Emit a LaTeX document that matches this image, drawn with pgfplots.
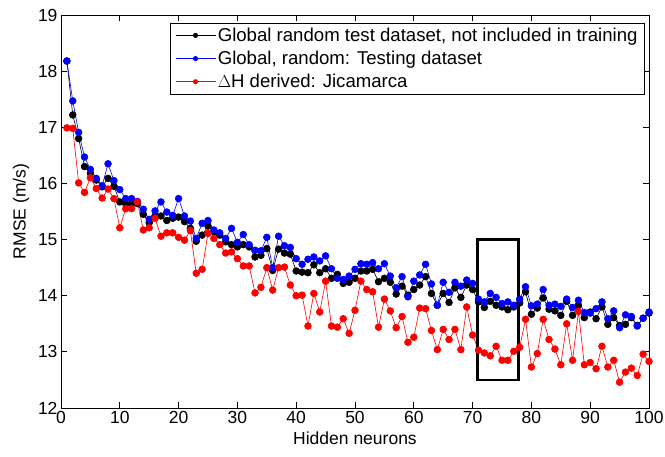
\documentclass[border=0pt]{standalone}
\usepackage{pgfplots}
\pgfplotsset{compat=1.18}
\usepackage{pgfplotstable}
\usepackage{fontspec}
\setmainfont{Liberation Sans}
\pgfplotstableread{
x k b r
1 18.18 18.18 16.99
2 17.22 17.47 16.98
3 16.80 16.91 16.01
4 16.30 16.47 15.84
5 16.18 16.25 16.10
6 16.06 16.09 15.91
7 15.94 15.96 15.74
8 16.09 16.35 15.90
9 15.95 16.05 15.73
10 15.67 15.89 15.21
11 15.64 15.73 15.55
12 15.64 15.73 15.55
13 15.64 15.68 15.67
14 15.45 15.54 15.17
15 15.30 15.36 15.21
16 15.42 15.51 15.38
17 15.42 15.67 15.06
18 15.34 15.49 15.12
19 15.38 15.43 15.12
20 15.40 15.73 15.04
21 15.32 15.42 14.99
22 15.20 15.33 15.16
23 14.97 15.02 14.40
24 15.08 15.29 14.47
25 15.24 15.34 15.11
26 15.14 15.17 15.02
27 15.08 15.12 14.91
28 14.96 15.02 14.76
29 14.91 15.20 14.78
30 14.87 14.95 14.66
31 14.91 15.09 14.53
32 14.87 14.91 14.53
33 14.69 14.81 14.05
34 14.72 14.80 14.15
35 14.84 15.04 14.50
36 14.45 14.50 14.10
37 14.83 15.06 14.50
38 14.76 14.89 14.51
39 14.74 14.86 14.19
40 14.44 14.66 14.00
41 14.42 14.56 14.01
42 14.41 14.65 13.46
43 14.55 14.69 14.04
44 14.41 14.62 13.71
45 14.48 14.71 14.26
46 14.31 14.48 13.46
47 14.38 14.31 13.44
48 14.22 14.29 13.59
49 14.24 14.35 13.33
50 14.31 14.47 13.74
51 14.44 14.57 14.26
52 14.44 14.56 14.11
53 14.47 14.59 14.07
54 14.25 14.48 13.44
55 14.31 14.57 13.94
56 14.24 14.35 13.73
57 14.03 14.14 13.43
58 14.17 14.34 13.63
59 14.01 13.98 13.17
60 14.11 14.26 13.26
61 14.19 14.37 13.78
62 14.34 14.56 13.77
63 14.04 14.21 13.38
64 13.83 13.83 13.04
65 14.04 14.24 13.40
66 13.88 14.06 13.22
67 14.14 14.24 13.40
68 13.97 14.17 13.04
69 14.19 14.28 13.80
70 14.11 14.22 13.30
71 13.89 13.94 13.03
72 13.79 13.89 12.98
73 13.90 14.04 12.93
74 13.83 13.97 13.10
75 13.80 13.86 12.85
76 13.75 13.89 12.85
77 13.80 13.83 13.01
78 13.87 13.94 13.08
79 14.07 14.16 13.58
80 13.67 13.82 12.73
81 13.78 13.85 12.97
82 13.96 14.11 13.58
83 13.76 13.83 13.22
84 13.73 13.85 13.05
85 13.65 13.81 12.77
86 13.90 13.94 13.50
87 13.65 13.79 12.85
88 13.83 13.92 13.72
89 13.61 13.70 12.77
90 13.71 13.69 12.81
91 13.59 13.77 12.70
92 13.80 13.89 13.10
93 13.49 13.59 12.73
94 13.61 13.73 12.85
95 13.47 13.43 12.46
96 13.49 13.66 12.64
97 13.61 13.63 12.71
98 13.47 13.46 12.58
99 13.60 13.60 12.96
100 13.69 13.71 12.83
}\datatable
\definecolor{mblue}{RGB}{0,0,255}
\definecolor{mred}{RGB}{255,0,0}
\begin{document}
\begin{tikzpicture}
\begin{axis}[
  scale only axis,
  width=588pt, height=393pt,
  xmin=0, xmax=100, ymin=12, ymax=19,
  xtick={0,10,...,100}, ytick={12,13,...,19},
  tick align=inside, tick pos=both,
  major tick length=6pt,
  axis line style={line width=0.8pt},
  every tick/.style={black, line width=0.8pt},
  /pgf/number format/assume math mode=true,
  tick label style={font=\fontsize{17.5}{21}\selectfont},
  label style={font=\fontsize{17.5}{21}\selectfont},
  xlabel={Hidden neurons},
  ylabel={RMSE (m/s)},
  xlabel style={yshift=-1pt},
  ylabel shift=2pt,
  legend cell align=left,
  legend style={at={(1,1)}, anchor=north east, xshift=-4pt, yshift=-7.5pt,
    font=\fontsize{18.6}{22}\selectfont, draw=black, line width=0.8pt,
    row sep=4.2pt, inner xsep=5pt, inner ysep=3pt},
  legend image code/.code={\draw[mark repeat=2,mark phase=2,#1,mark size=2.2pt,line width=0.6pt] plot coordinates {(0pt,0pt) (20pt,0pt) (40pt,0pt)};},
]
\addplot[black, line width=0.6pt, mark=*, mark size=3.4pt, mark options={solid}] table[x=x,y=k] {\datatable};
\addlegendentry{Global random test dataset, not included in training}
\addplot[mblue, line width=0.6pt, mark=*, mark size=3.4pt, mark options={solid}] table[x=x,y=b] {\datatable};
\addlegendentry{Global, random: Testing dataset}
\addplot[mred, line width=0.6pt, mark=*, mark size=3.4pt, mark options={solid}] table[x=x,y=r] {\datatable};
\addlegendentry{$\Delta$H derived: Jicamarca}
\draw[black, line width=2.4pt] (axis cs:70.8,12.5) rectangle (axis cs:77.8,15);
\end{axis}
\pgfresetboundingbox
\path[use as bounding box] (-61pt,-48pt) rectangle (604pt,408pt);
\end{tikzpicture}
\end{document}
